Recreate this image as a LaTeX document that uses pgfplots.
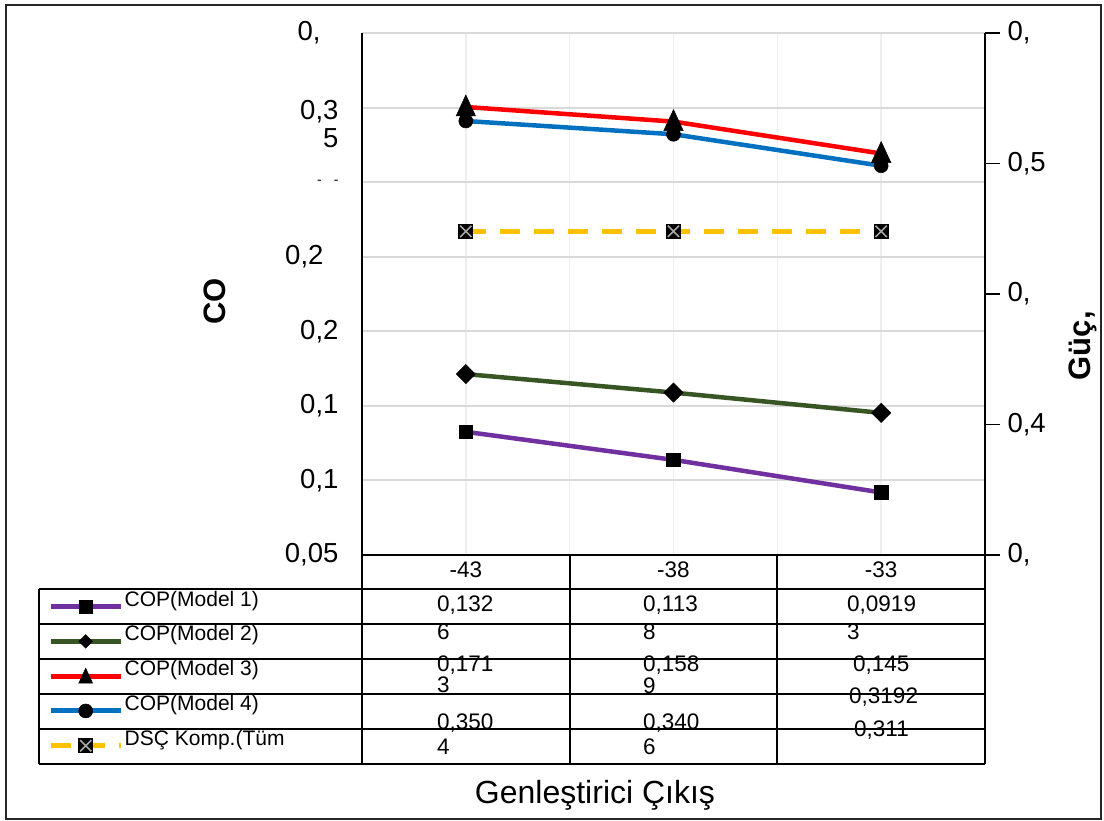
\documentclass[border=0pt]{standalone}
\usepackage{pgfplots}
\pgfplotsset{compat=1.18}
\usepackage{fontspec}
\setmainfont{Liberation Sans}
\definecolor{mpurple}{HTML}{7030A0}
\definecolor{mgreen}{HTML}{375623}
\definecolor{mred}{HTML}{FF0000}
\definecolor{mblue}{HTML}{0070C0}
\definecolor{myellow}{HTML}{FFC000}
\definecolor{gridh}{HTML}{D9D9D9}
\definecolor{gridv}{HTML}{EEEEEE}
\definecolor{xgray}{HTML}{A6A6A6}
\newcommand\tickfont{\fontsize{27.5}{28}\selectfont}
\newcommand\tablefont{\fontsize{22.5}{23}\selectfont}
\newcommand\legfont{\fontsize{21}{22}\selectfont}

\pgfdeclareplotmark{sqx}{%
  \pgfpathrectangle{\pgfqpoint{-\pgfplotmarksize}{-\pgfplotmarksize}}{\pgfqpoint{2\pgfplotmarksize}{2\pgfplotmarksize}}%
  \pgfusepathqfill
  \pgfsetstrokecolor{xgray}%
  \pgfsetlinewidth{1.6pt}%
  \pgfsetdash{}{0pt}%
  \pgfpathmoveto{\pgfqpoint{-.75\pgfplotmarksize}{-.75\pgfplotmarksize}}%
  \pgfpathlineto{\pgfqpoint{.75\pgfplotmarksize}{.75\pgfplotmarksize}}%
  \pgfpathmoveto{\pgfqpoint{-.75\pgfplotmarksize}{.75\pgfplotmarksize}}%
  \pgfpathlineto{\pgfqpoint{.75\pgfplotmarksize}{-.75\pgfplotmarksize}}%
  \pgfusepathqstroke
}

\pgfplotsset{
  s1/.style={mpurple, line width=4.5pt, mark=square*, mark size=6.8pt, mark options={fill=black, draw=black, line width=0.5pt, solid}},
  s2/.style={mgreen, line width=4.5pt, mark=square*, mark size=6.8pt, mark options={rotate=45, fill=black, draw=black, line width=0.5pt, solid}},
  s3/.style={mred, line width=4.5pt, mark=triangle*, mark size=14pt, mark options={xscale=0.8, yshift=-2pt, fill=black, draw=black, line width=0.5pt, solid}},
  s4/.style={mblue, line width=4.5pt, mark=*, mark size=7pt, mark options={fill=black, draw=black, line width=0.5pt, solid}},
  s5/.style={myellow, line width=5pt, dash pattern=on 20pt off 14pt, mark=sqx, mark size=7.5pt, mark options={fill=black, draw=black, solid}},
}

\pgfplotstableread{
x m1 m2 m3 m4
0 0.1326 0.1713 0.3504 0.3410
1 0.1138 0.1589 0.3406 0.3321
2 0.09193 0.1453 0.3192 0.3110
}\coptable
\pgfplotstableread{
x dsc
0 0.474
1 0.474
2 0.474
}\dsctable

\begin{document}
\begin{tikzpicture}
\useasboundingbox (0pt,0pt) rectangle (1104pt,-821pt);
\fill[white] (0pt,0pt) rectangle (1104pt,-821pt);

\begin{axis}[
  at={(362pt,-555pt)}, anchor=south west,
  scale only axis, width=623pt, height=522pt,
  xmin=-0.5, xmax=2.5, ymin=0.05, ymax=0.4,
  axis x line*=bottom, axis y line*=left,
  axis line style={-, black, line width=1.5pt},
  xtick={0,1,2}, xticklabels={-43,-38,-33},
  minor xtick={0.5,1.5},
  xmajorgrids, xminorgrids, ymajorgrids,
  grid style={gridv, line width=1.5pt},
  minor grid style={gridv, line width=1.5pt},
  y grid style={gridh, line width=2pt},
  major tick length=0pt, minor tick length=0pt,
  ytick={0.05,0.1,0.15,0.2,0.25,0.3,0.35,0.4},
  yticklabels={{0,05},{0,1},{0,1},{0,2},{0,2\hspace*{15pt}\mbox{}},{\fontsize{14}{14}\selectfont -\hspace{12pt}-},{\raisebox{-12pt}[0pt][0pt]{\begin{tabular}[t]{@{}r@{}}0,3\\5\end{tabular}}},{0,\hspace*{18pt}\mbox{}}},
  xticklabel style={font=\tablefont, yshift=-3pt},
  yticklabel style={font=\tickfont, xshift=-20pt},
  xlabel={Genleştirici Çıkış},
  xlabel style={font=\fontsize{32}{34}\selectfont, at={(rel axis cs:0.374,-0.4598)}, anchor=center},
  ylabel={CO},
  ylabel style={font=\fontsize{31}{33}\selectfont\bfseries, at={(rel axis cs:-0.236,0.4853)}, anchor=center},
  clip=false,
]
\addplot[s1] table[x=x, y=m1] {\coptable};
\addplot[s2] table[x=x, y=m2] {\coptable};
\addplot[s3] table[x=x, y=m3] {\coptable};
\addplot[s4] table[x=x, y=m4] {\coptable};
\end{axis}

\begin{axis}[
  at={(362pt,-555pt)}, anchor=south west,
  scale only axis, width=623pt, height=522pt,
  xmin=-0.5, xmax=2.5, ymin=0.35, ymax=0.55,
  axis x line=none, axis y line*=right,
  axis line style={-, black, line width=1.5pt},
  xtick=\empty,
  ytick={0.35,0.4,0.45,0.5,0.55},
  yticklabels={{0,},{0,4},{0,},{0,5},{0,}},
  tick align=outside, major tick length=15pt,
  ytick style={black, line width=1.5pt},
  yticklabel style={font=\tickfont, anchor=west, xshift=4pt},
  ylabel={Güç,},
  ylabel style={font=\fontsize{31}{33}\selectfont\bfseries, at={(rel axis cs:1.1573,0.4008)}, anchor=center},
  legend style={at={(rel axis cs:-0.504,-0.0651)}, anchor=north west,
    draw=none, fill=none, inner sep=0pt, row sep=0pt,
    font=\legfont,
    nodes={inner xsep=1.5pt, inner ysep=0pt, text height=17pt, text depth=17.8pt}},
  legend cell align=left,
  legend image code/.code={\draw[mark repeat=2,mark phase=2,#1] plot coordinates {(0pt,0pt) (35pt,0pt) (70pt,0pt)};},
  clip=false,
]
\addlegendimage{s1, line width=5pt}\addlegendentry{COP(Model 1)}
\addlegendimage{s2, line width=5pt, mark size=4.8pt}\addlegendentry{COP(Model 2)}
\addlegendimage{s3, line width=5pt, mark size=10pt}\addlegendentry{COP(Model 3)}
\addlegendimage{s4, line width=5pt}\addlegendentry{COP(Model 4)}
\addplot[s5] table[x=x, y=dsc] {\dsctable};
\addlegendentry{DSÇ Komp.(Tüm}
\end{axis}

\begin{scope}[x=1pt, y=-1pt]
  \begin{scope}[every node/.style={anchor=west, font=\tablefont, inner sep=0pt}]
    \node at (437,605) {0,132};
    \node at (437,632) {6};
    \node at (437,665) {0,171};
    \node at (437,685) {3};
    \node at (437,723) {0,350};
    \node at (437,747) {4};
    \node at (643,605) {0,113};
    \node at (643,632) {8};
    \node at (643,665) {0,158};
    \node at (643,686) {9};
    \node at (643,723) {0,340};
    \node at (643,747) {6};
    \node at (847,605) {0,0919};
    \node at (847,632) {3};
    \node at (853,665) {0,145};
    \node at (849,697) {0,3192};
    \node at (854,730) {0,311};
  \end{scope}
  \begin{scope}[line width=1.8pt, black]
    \draw (362,555) -- (362,764);
    \draw (570,555) -- (570,764);
    \draw (777,555) -- (777,764);
    \draw (985,555) -- (985,764);
    \draw (39,589) -- (39,764);
    \foreach \yy in {589,624,659,694,729,764} {\draw (39,\yy) -- (985,\yy);}
  \end{scope}
  \draw[line width=2pt, black!85] (6,5) rectangle (1101,819);
\end{scope}
\end{tikzpicture}
\end{document}
